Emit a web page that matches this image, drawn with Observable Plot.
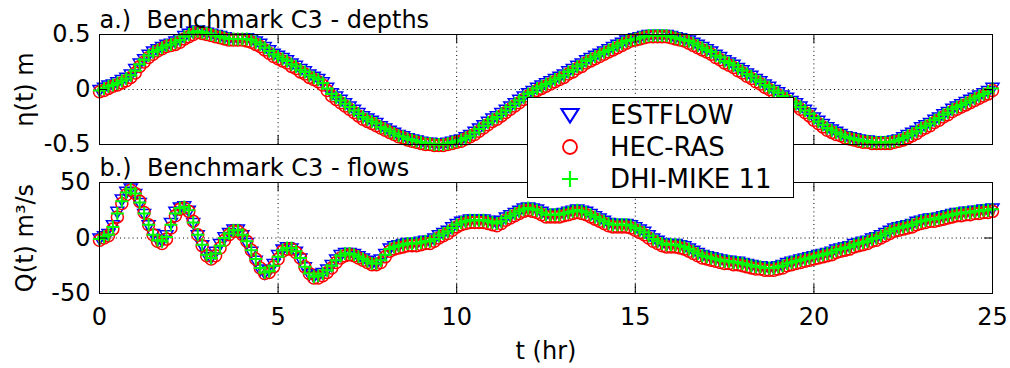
<!DOCTYPE html>
<html>
<head>
<meta charset="utf-8">
<script src="https://cdn.jsdelivr.net/npm/d3@7"></script>
<script src="https://cdn.jsdelivr.net/npm/@observablehq/plot@0.6"></script>
<style>
  body { margin: 0; background: #fff; }
  #wrap { position: relative; width: 1010px; height: 368px; font-family: "DejaVu Sans", sans-serif; background: #fff; overflow: hidden; }
  #wrap svg.panel { position: absolute; left: 0; overflow: visible; }
  #legend { position: absolute; left: 527px; top: 97px; width: 265px; height: 99px; border: 1px solid #000; background: #fff; font-size: 26px; color: #000; z-index: 5; }
  #legend .row { position: absolute; left: 0; width: 265px; height: 32px; }
  #legend .row svg { position: absolute; left: 31px; top: 6px; }
  #legend .row span { position: absolute; left: 82px; line-height: 32px; top: 0; white-space: nowrap; }
</style>
</head>
<body>
<div id="wrap"></div>
<script>
// ---------- data ----------
const seriesNames = ["ESTFLOW", "HEC-RAS", "DHI-MIKE 11"];
const seriesColors = ["#0000ff", "#ff0000", "#00ff00"];
const timeStep = 0.125; // hr between samples (8 samples per hour per row below)
const xTicks = [0, 5, 10, 15, 20, 25];
const xGrid = [5, 10, 15, 20];
const depthTicks = [-0.5, 0, 0.5];
const flowTicks = [-50, 0, 50];

// water surface elevation eta(t), m  (one row per hour)
const depthEST = [
  0.00, 0.02, 0.04, 0.05, 0.07, 0.09, 0.11, 0.14,
  0.19, 0.24, 0.28, 0.32, 0.35, 0.37, 0.39, 0.41,
  0.42, 0.44, 0.46, 0.49, 0.51, 0.53, 0.54, 0.53,
  0.52, 0.51, 0.50, 0.49, 0.48, 0.47, 0.47, 0.47,
  0.47, 0.47, 0.46, 0.44, 0.42, 0.39, 0.36, 0.33,
  0.31, 0.29, 0.27, 0.24, 0.22, 0.19, 0.17, 0.14,
  0.12, 0.10, 0.07, 0.02, -0.03, -0.06, -0.09, -0.12,
  -0.15, -0.18, -0.21, -0.24, -0.26, -0.28, -0.30, -0.33,
  -0.35, -0.37, -0.39, -0.41, -0.42, -0.44, -0.45, -0.46,
  -0.47, -0.48, -0.48, -0.49, -0.49, -0.49, -0.48, -0.47,
  -0.46, -0.45, -0.43, -0.41, -0.38, -0.35, -0.32, -0.29,
  -0.26, -0.24, -0.21, -0.18, -0.15, -0.12, -0.09, -0.06,
  -0.03, -0.01, 0.02, 0.04, 0.06, 0.08, 0.10, 0.12,
  0.14, 0.17, 0.19, 0.22, 0.24, 0.27, 0.29, 0.31,
  0.33, 0.35, 0.37, 0.39, 0.41, 0.43, 0.45, 0.46,
  0.47, 0.48, 0.49, 0.50, 0.50, 0.50, 0.50, 0.50,
  0.49, 0.48, 0.47, 0.46, 0.45, 0.43, 0.41, 0.39,
  0.37, 0.35, 0.32, 0.30, 0.27, 0.25, 0.23, 0.20,
  0.18, 0.15, 0.13, 0.10, 0.08, 0.05, 0.03, 0.00,
  -0.02, -0.05, -0.07, -0.10, -0.12, -0.15, -0.18, -0.21,
  -0.25, -0.28, -0.31, -0.34, -0.36, -0.38, -0.40, -0.42,
  -0.43, -0.44, -0.45, -0.46, -0.46, -0.47, -0.47, -0.47,
  -0.47, -0.47, -0.46, -0.45, -0.43, -0.41, -0.39, -0.37,
  -0.34, -0.32, -0.30, -0.27, -0.25, -0.22, -0.20, -0.17,
  -0.15, -0.13, -0.11, -0.09, -0.07, -0.05, -0.03, -0.01,
  0.02
];
const depthHEC = [
  -0.02, -0.01, 0.01, 0.03, 0.04, 0.06, 0.08, 0.11,
  0.15, 0.21, 0.25, 0.29, 0.32, 0.35, 0.37, 0.39,
  0.40, 0.41, 0.43, 0.46, 0.48, 0.50, 0.52, 0.51,
  0.50, 0.49, 0.48, 0.47, 0.46, 0.45, 0.45, 0.45,
  0.45, 0.44, 0.43, 0.41, 0.39, 0.36, 0.33, 0.30,
  0.28, 0.26, 0.24, 0.21, 0.19, 0.16, 0.14, 0.11,
  0.09, 0.07, 0.04, -0.01, -0.06, -0.09, -0.12, -0.15,
  -0.18, -0.21, -0.24, -0.27, -0.29, -0.31, -0.33, -0.35,
  -0.37, -0.39, -0.41, -0.43, -0.44, -0.46, -0.47, -0.48,
  -0.49, -0.50, -0.50, -0.51, -0.51, -0.51, -0.50, -0.49,
  -0.48, -0.47, -0.45, -0.43, -0.41, -0.38, -0.35, -0.32,
  -0.29, -0.27, -0.24, -0.21, -0.18, -0.15, -0.12, -0.09,
  -0.06, -0.04, -0.01, 0.01, 0.03, 0.05, 0.07, 0.09,
  0.11, 0.14, 0.16, 0.19, 0.21, 0.24, 0.26, 0.28,
  0.30, 0.32, 0.34, 0.36, 0.38, 0.40, 0.42, 0.44,
  0.45, 0.46, 0.47, 0.48, 0.48, 0.48, 0.48, 0.48,
  0.47, 0.46, 0.45, 0.44, 0.42, 0.40, 0.38, 0.36,
  0.34, 0.32, 0.29, 0.27, 0.24, 0.22, 0.20, 0.17,
  0.15, 0.12, 0.10, 0.07, 0.05, 0.02, 0.00, -0.03,
  -0.05, -0.08, -0.10, -0.13, -0.15, -0.18, -0.21, -0.24,
  -0.28, -0.31, -0.34, -0.37, -0.39, -0.41, -0.42, -0.44,
  -0.45, -0.46, -0.47, -0.48, -0.48, -0.49, -0.49, -0.49,
  -0.49, -0.49, -0.48, -0.47, -0.46, -0.44, -0.42, -0.40,
  -0.37, -0.35, -0.33, -0.30, -0.28, -0.25, -0.23, -0.20,
  -0.18, -0.16, -0.14, -0.12, -0.10, -0.08, -0.06, -0.04,
  -0.01
];
const depthMIKE = [
  -0.01, 0.01, 0.03, 0.04, 0.06, 0.08, 0.10, 0.13,
  0.17, 0.23, 0.27, 0.31, 0.34, 0.36, 0.38, 0.40,
  0.41, 0.43, 0.45, 0.48, 0.50, 0.52, 0.53, 0.52,
  0.51, 0.50, 0.49, 0.48, 0.47, 0.46, 0.46, 0.46,
  0.46, 0.46, 0.45, 0.43, 0.41, 0.38, 0.35, 0.32,
  0.30, 0.28, 0.26, 0.23, 0.21, 0.18, 0.16, 0.13,
  0.11, 0.09, 0.06, 0.01, -0.04, -0.07, -0.10, -0.13,
  -0.16, -0.19, -0.22, -0.25, -0.27, -0.29, -0.31, -0.34,
  -0.36, -0.38, -0.40, -0.42, -0.43, -0.45, -0.46, -0.47,
  -0.48, -0.49, -0.49, -0.50, -0.50, -0.50, -0.49, -0.48,
  -0.47, -0.46, -0.44, -0.42, -0.39, -0.36, -0.33, -0.30,
  -0.27, -0.25, -0.22, -0.19, -0.16, -0.13, -0.10, -0.07,
  -0.04, -0.02, 0.01, 0.03, 0.05, 0.07, 0.09, 0.11,
  0.13, 0.16, 0.18, 0.21, 0.23, 0.26, 0.28, 0.30,
  0.32, 0.34, 0.36, 0.38, 0.40, 0.42, 0.44, 0.45,
  0.46, 0.47, 0.48, 0.49, 0.49, 0.49, 0.49, 0.49,
  0.48, 0.47, 0.46, 0.45, 0.44, 0.42, 0.40, 0.38,
  0.36, 0.34, 0.31, 0.29, 0.26, 0.24, 0.22, 0.19,
  0.17, 0.14, 0.12, 0.09, 0.07, 0.04, 0.02, -0.01,
  -0.03, -0.06, -0.08, -0.11, -0.13, -0.16, -0.19, -0.22,
  -0.26, -0.29, -0.32, -0.35, -0.37, -0.39, -0.41, -0.43,
  -0.44, -0.45, -0.46, -0.47, -0.47, -0.48, -0.48, -0.48,
  -0.48, -0.48, -0.47, -0.46, -0.44, -0.42, -0.40, -0.38,
  -0.35, -0.33, -0.31, -0.28, -0.26, -0.23, -0.21, -0.18,
  -0.16, -0.14, -0.12, -0.10, -0.08, -0.06, -0.04, -0.02,
  0.01
];

// discharge Q(t), m^3/s  (one row per hour)
const flowEST = [
  0, 2, 4, 12, 24, 35, 42, 45,
  40, 32, 22, 12, 4, -1, -2, 3,
  14, 24, 28, 29, 25, 14, 3, -6,
  -15, -17, -12, -5, 1, 5, 8, 8,
  3, -4, -12, -20, -28, -31, -29, -23,
  -15, -10, -8, -9, -12, -18, -26, -32,
  -34, -33, -31, -28, -24, -19, -15, -13,
  -13, -14, -16, -18, -20, -22, -22, -19,
  -14, -9, -7, -6, -5, -4, -4, -4,
  -3, -2, -2, 0, 3, 5, 7, 10,
  13, 15, 16, 17, 17, 17, 17, 16,
  15, 14, 16, 19, 21, 23, 25, 27,
  28, 27, 26, 24, 22, 22, 22, 22,
  23, 24, 25, 26, 25, 24, 22, 20,
  18, 16, 14, 13, 13, 13, 13, 12,
  10, 8, 6, 3, 0, -2, -4, -5,
  -5, -5, -6, -7, -9, -11, -13, -15,
  -16, -17, -18, -19, -20, -20, -21, -21,
  -22, -23, -24, -25, -25, -26, -26, -26,
  -25, -24, -22, -21, -20, -19, -18, -17,
  -16, -15, -14, -13, -12, -10, -9, -8,
  -7, -5, -4, -3, -2, 0, 1, 3,
  5, 7, 9, 10, 11, 12, 13, 15,
  16, 17, 18, 18, 19, 20, 21, 22,
  23, 23, 24, 24, 25, 25, 26, 26,
  27
];
const flowHEC = [
  -2, 0, 2, 8, 19, 31, 39, 43,
  40, 33, 23, 12, 3, -3, -5, -1,
  9, 20, 26, 27, 24, 15, 3, -7,
  -16, -19, -16, -9, -2, 3, 6, 6,
  3, -3, -11, -19, -27, -32, -31, -26,
  -19, -12, -10, -10, -13, -18, -26, -32,
  -36, -36, -34, -31, -27, -22, -18, -16,
  -15, -16, -18, -20, -22, -24, -24, -22,
  -17, -12, -10, -9, -8, -7, -7, -7,
  -6, -5, -5, -3, 0, 2, 4, 7,
  10, 12, 13, 14, 14, 14, 14, 13,
  12, 11, 13, 16, 18, 20, 22, 24,
  25, 24, 23, 21, 19, 19, 19, 19,
  20, 21, 22, 23, 22, 21, 19, 17,
  15, 13, 11, 10, 10, 10, 10, 9,
  7, 5, 3, 0, -3, -5, -7, -8,
  -8, -8, -9, -10, -12, -14, -16, -18,
  -19, -20, -21, -22, -23, -23, -24, -24,
  -25, -26, -27, -28, -28, -29, -29, -29,
  -28, -27, -25, -24, -23, -22, -21, -20,
  -19, -18, -17, -16, -15, -13, -12, -11,
  -10, -8, -7, -6, -5, -3, -2, 0,
  2, 4, 6, 7, 8, 9, 10, 12,
  13, 14, 15, 15, 16, 17, 18, 19,
  20, 20, 21, 21, 22, 22, 23, 23,
  24
];
const flowMIKE = [
  -1, 1, 3, 10, 22, 33, 41, 44,
  40, 32, 22, 12, 3, -2, -3, 1,
  12, 22, 27, 28, 25, 14, 3, -6,
  -15, -18, -14, -7, 0, 4, 7, 7,
  3, -3, -11, -19, -27, -31, -30, -25,
  -17, -11, -9, -9, -12, -18, -26, -32,
  -35, -34, -32, -29, -25, -20, -16, -14,
  -14, -15, -17, -19, -21, -23, -23, -20,
  -15, -10, -8, -7, -6, -5, -5, -5,
  -4, -3, -3, -1, 2, 4, 6, 9,
  12, 14, 15, 16, 16, 16, 16, 15,
  14, 13, 15, 18, 20, 22, 24, 26,
  27, 26, 25, 23, 21, 21, 21, 21,
  22, 23, 24, 25, 24, 23, 21, 19,
  17, 15, 13, 12, 12, 12, 12, 11,
  9, 7, 5, 2, -1, -3, -5, -6,
  -6, -6, -7, -8, -10, -12, -14, -16,
  -17, -18, -19, -20, -21, -21, -22, -22,
  -23, -24, -25, -26, -26, -27, -27, -27,
  -26, -25, -23, -22, -21, -20, -19, -18,
  -17, -16, -15, -14, -13, -11, -10, -9,
  -8, -6, -5, -4, -3, -1, 0, 2,
  4, 6, 8, 9, 10, 11, 12, 14,
  15, 16, 17, 17, 18, 19, 20, 21,
  22, 22, 23, 23, 24, 24, 25, 25,
  26
];

// ---------- symbols (MATLAB-like) ----------
const triDown = {
  draw(ctx, size) {
    const r = Math.sqrt(size / Math.PI);
    ctx.moveTo(-r, -0.62 * r);
    ctx.lineTo(r, -0.62 * r);
    ctx.lineTo(0, 1.05 * r);
    ctx.closePath();
  }
};
const plusSym = {
  draw(ctx, size) {
    const r = Math.sqrt(size / Math.PI);
    ctx.moveTo(-r, 0); ctx.lineTo(r, 0);
    ctx.moveTo(0, -r); ctx.lineTo(0, r);
  }
};

const toRows = (vals) => vals.map((v, i) => ({t: i * timeStep, v}));
const fmt = (d) => String(d);

const W = 1010, ML = 99, MR = 18;
const frameW = W - ML - MR;

function panel({height, marginTop, marginBottom, yDomain, yTicks, series, title, ylabel, showX}) {
  const frameH = height - marginTop - marginBottom;
  const marks = [
    Plot.gridX(xGrid, {stroke: "#000", strokeOpacity: 1, strokeDasharray: "1,3.2"}),
    Plot.gridY([0], {stroke: "#000", strokeOpacity: 1, strokeDasharray: "1,3.2"}),
    Plot.dot(toRows(series[0]), {x: "t", y: "v", symbol: triDown, r: 6.5, stroke: seriesColors[0], strokeWidth: 1.5, fill: "none"}),
    Plot.dot(toRows(series[1]), {x: "t", y: "v", symbol: "circle", r: 6, stroke: seriesColors[1], strokeWidth: 1.5, fill: "none"}),
    Plot.dot(toRows(series[2]), {x: "t", y: "v", symbol: plusSym, r: 6.5, stroke: seriesColors[2], strokeWidth: 2, fill: "none"}),
    Plot.frame({stroke: "#000", strokeWidth: 1}),
    Plot.tickX(xTicks, {x: (d) => d, insetTop: frameH - 9, stroke: "#000"}),
    Plot.tickX(xTicks, {x: (d) => d, insetBottom: frameH - 9, stroke: "#000"}),
    Plot.tickY(yTicks, {y: (d) => d, insetRight: frameW - 8, stroke: "#000"}),
    Plot.tickY(yTicks, {y: (d) => d, insetLeft: frameW - 8, stroke: "#000"}),
    Plot.axisY({ticks: yTicks, tickSize: 0, tickPadding: 9, tickFormat: fmt, label: null}),
    Plot.text([title], {text: (d) => d, frameAnchor: "top-left", textAnchor: "start", lineAnchor: "bottom", dy: -7, fill: "#000"}),
    Plot.text([ylabel], {text: (d) => d, frameAnchor: "left", rotate: -90, dx: -74, textAnchor: "middle", lineAnchor: "middle", fill: "#000"})
  ];
  if (showX) {
    marks.push(Plot.axisX({ticks: xTicks, tickSize: 0, tickPadding: 14, tickFormat: fmt, label: null}));
    marks.push(Plot.text(["t (hr)"], {text: (d) => d, frameAnchor: "bottom", dy: 58, lineAnchor: "middle", fill: "#000"}));
  }
  const svg = Plot.plot({
    width: W, height, marginLeft: ML, marginRight: MR, marginTop, marginBottom,
    x: {domain: [0, 25], axis: showX ? undefined : null},
    y: {domain: yDomain},
    style: {fontFamily: "DejaVu Sans", fontSize: "24px", color: "#000", background: "transparent", overflow: "visible"},
    marks
  });
  svg.classList.add("panel");
  return svg;
}

const wrap = document.getElementById("wrap");
const top1 = panel({
  height: 150, marginTop: 34, marginBottom: 6, yDomain: [-0.5, 0.5], yTicks: depthTicks,
  series: [depthEST, depthHEC, depthMIKE],
  title: "a.)\u00a0 Benchmark C3 - depths", ylabel: "η(t) m", showX: false
});
top1.style.top = "0px";
const bot = panel({
  height: 218, marginTop: 32, marginBottom: 75, yDomain: [-50, 50], yTicks: flowTicks,
  series: [flowEST, flowHEC, flowMIKE],
  title: "b.)\u00a0 Benchmark C3 - flows", ylabel: "Q(t) m³/s", showX: true
});
bot.style.top = "150px";
wrap.appendChild(bot);
wrap.appendChild(top1);

// ---------- legend ----------
const legend = document.createElement("div");
legend.id = "legend";
const legendIcons = [
  '<svg width="22" height="20" viewBox="-11 -10 22 20"><path d="M-8.5,-6 L8.5,-6 L0,7.5 Z" fill="none" stroke="#0000ff" stroke-width="2.2"/></svg>',
  '<svg width="22" height="20" viewBox="-11 -10 22 20"><circle r="7" fill="none" stroke="#ff0000" stroke-width="1.8"/></svg>',
  '<svg width="22" height="20" viewBox="-11 -10 22 20"><path d="M-8,0 L8,0 M0,-8 L0,8" fill="none" stroke="#00ff00" stroke-width="2.2"/></svg>'
];
seriesNames.forEach((name, i) => {
  const row = document.createElement("div");
  row.className = "row";
  row.style.top = (1 + i * 32) + "px";
  row.innerHTML = legendIcons[i];
  const span = document.createElement("span");
  span.textContent = name;
  row.appendChild(span);
  legend.appendChild(row);
});
wrap.appendChild(legend);
</script>
</body>
</html>
